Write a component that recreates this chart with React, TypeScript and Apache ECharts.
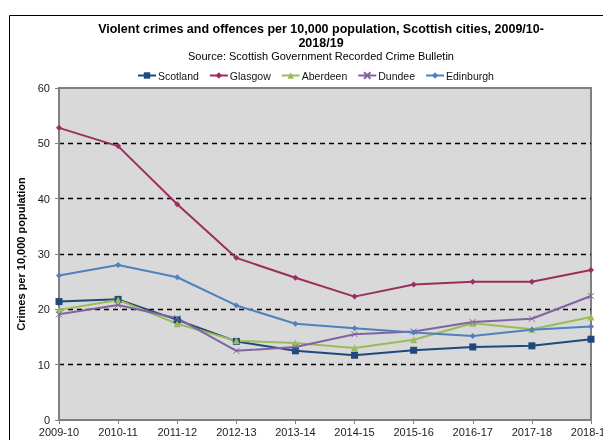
import React, { useEffect, useRef } from "react";
import * as echarts from "echarts";

const categories = ["2009-10", "2010-11", "2011-12", "2012-13", "2013-14", "2014-15", "2015-16", "2016-17", "2017-18", "2018-19"];
const scotland = [21.4, 21.8, 18.1, 14.2, 12.5, 11.7, 12.6, 13.2, 13.4, 14.6];
const glasgow = [52.8, 49.5, 39.0, 29.3, 25.7, 22.3, 24.5, 25.0, 25.0, 27.1];
const aberdeen = [19.9, 21.7, 17.4, 14.3, 13.9, 13.0, 14.5, 17.5, 16.4, 18.6];
const dundee = [19.1, 20.8, 18.4, 12.5, 13.2, 15.5, 16.0, 17.7, 18.3, 22.4];
const edinburgh = [26.1, 28.0, 25.8, 20.7, 17.4, 16.6, 15.8, 15.2, 16.3, 16.9];
const yTicks = { min: 0, max: 60, interval: 10 };

const FONT = "Liberation Sans, Arial, sans-serif";
const X_SYMBOL = "path://M0,0L10,10M10,0L0,10";

export default function App() {
  const ref = useRef<HTMLDivElement>(null);
  useEffect(() => {
    if (!ref.current) return;
    const chart = echarts.init(ref.current, null, { renderer: "svg" });
    const mk = (name: string, data: number[], color: string, symbol: string, size: number, extra: any = {}) => ({
      name,
      type: "line",
      data,
      symbol,
      symbolSize: size,
      showSymbol: true,
      lineStyle: { color, width: 2 },
      itemStyle: { color, borderColor: color, borderWidth: extra.borderWidth ?? 0 },
      emphasis: { disabled: true },
    });
    chart.setOption({
      animation: false,
      textStyle: { fontFamily: FONT },
      title: {
        text: "Violent crimes and offences per 10,000 population, Scottish cities, 2009/10-\n2018/19",
        subtext: "Source: Scottish Government Recorded Crime Bulletin",
        left: 316,
        top: 17,
        textAlign: "center",
        itemGap: 0,
        textStyle: { fontFamily: FONT, fontSize: 12.5, fontWeight: "bold", color: "#000", lineHeight: 14 },
        subtextStyle: { fontFamily: FONT, fontSize: 11, color: "#000" },
      },
      legend: {
        left: 132,
        top: 65,
        itemWidth: 18,
        itemHeight: 8,
        itemGap: 10,
        textStyle: { fontFamily: FONT, fontSize: 10.5, color: "#111", padding: [0, 0, 0, -3] },
        data: ["Scotland", "Glasgow", "Aberdeen", "Dundee", "Edinburgh"],
      },
      graphic: [
        {
          type: "rect",
          shape: { x: 9.5, y: 15.5, width: 700, height: 500 },
          style: { fill: "none", stroke: "#000", lineWidth: 1 },
          silent: true,
        },
      ],
      grid: {
        left: 59,
        top: 88,
        right: 12,
        bottom: 20,
        containLabel: false,
        outerBoundsMode: "none",
        show: true,
        backgroundColor: "#d9d9d9",
        borderColor: "#808080",
        borderWidth: 2,
      },
      xAxis: {
        type: "category",
        data: categories,
        boundaryGap: false,
        axisLine: { lineStyle: { color: "#808080", width: 2 } },
        axisTick: { show: true, length: 4, lineStyle: { color: "#808080" } },
        axisLabel: { fontFamily: FONT, fontSize: 11, color: "#222", margin: 6 },
      },
      yAxis: {
        type: "value",
        min: yTicks.min,
        max: yTicks.max,
        interval: yTicks.interval,
        name: "Crimes per 10,000 population",
        nameLocation: "middle",
        nameGap: 33,
        nameTextStyle: { fontFamily: FONT, fontSize: 11, fontWeight: "bold", color: "#000" },
        axisLine: { show: true, lineStyle: { color: "#808080", width: 2 } },
        axisTick: { show: true, length: 4, lineStyle: { color: "#808080" } },
        axisLabel: { fontFamily: FONT, fontSize: 11, color: "#222", margin: 9 },
        splitLine: {
          show: true,
          showMinLine: false,
          showMaxLine: false,
          lineStyle: { color: "#000", type: [5, 4], width: 1.3 },
        },
      },
      series: [
        mk("Scotland", scotland, "#1f497d", "rect", 7),
        mk("Glasgow", glasgow, "#9b2d5f", "diamond", 6),
        mk("Aberdeen", aberdeen, "#9bbb59", "triangle", 7),
        mk("Dundee", dundee, "#8064a2", X_SYMBOL, 6, { borderWidth: 1 }),
        mk("Edinburgh", edinburgh, "#4f81bd", "diamond", 6),
      ],
    });
    return () => chart.dispose();
  }, []);
  return <div ref={ref} style={{ position: "fixed", left: 0, top: 0, width: 603, height: 440 }} />;
}
